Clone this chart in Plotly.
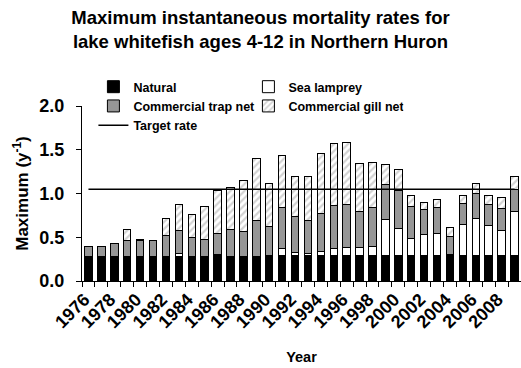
import plotly.graph_objects as go

years = list(range(1976, 2010))

natural = [0.28, 0.28, 0.28, 0.28, 0.28, 0.28, 0.28, 0.28, 0.28, 0.28,
           0.30, 0.28, 0.28, 0.28, 0.29, 0.29, 0.29, 0.29, 0.29, 0.29,
           0.29, 0.29, 0.29, 0.29, 0.29, 0.29, 0.29, 0.29, 0.30, 0.29,
           0.29, 0.29, 0.29, 0.29]
sea_lamprey = [0.0, 0.0, 0.0, 0.0, 0.0, 0.0, 0.0, 0.03, 0.0, 0.0,
               0.0, 0.0, 0.0, 0.0, 0.0, 0.08, 0.04, 0.03, 0.045, 0.08,
               0.09, 0.09, 0.10, 0.41, 0.31, 0.20, 0.24, 0.255, 0.0, 0.36,
               0.43, 0.34, 0.29, 0.51]
trap_net = [0.12, 0.11, 0.15, 0.185, 0.18, 0.185, 0.24, 0.27, 0.22, 0.20,
            0.24, 0.31, 0.29, 0.41, 0.33, 0.47, 0.41, 0.37, 0.435, 0.49,
            0.49, 0.41, 0.45, 0.40, 0.43, 0.36, 0.29, 0.295, 0.21, 0.24,
            0.28, 0.24, 0.25, 0.25]
gill_net = [0.0, 0.0, 0.0, 0.125, 0.02, 0.0, 0.20, 0.30, 0.26, 0.37,
            0.50, 0.48, 0.58, 0.71, 0.50, 0.59, 0.46, 0.51, 0.69, 0.71,
            0.71, 0.55, 0.51, 0.23, 0.24, 0.13, 0.08, 0.09, 0.10, 0.09,
            0.12, 0.11, 0.13, 0.14]
target_rate = 1.05

label_years = [y for y in years if y % 2 == 0]

FONT = "Liberation Sans, Arial, sans-serif"
outline = dict(color="black", width=1)

fig = go.Figure()
fig.add_trace(go.Bar(x=years, y=natural, name="Natural",
                     marker=dict(color="black", line=outline)))
fig.add_trace(go.Bar(x=years, y=sea_lamprey, name="Sea lamprey",
                     marker=dict(color="white", line=outline)))
fig.add_trace(go.Bar(x=years, y=trap_net, name="Commercial trap net",
                     marker=dict(color="#969696", line=outline)))
fig.add_trace(go.Bar(x=years, y=gill_net, name="Commercial gill net",
                     marker=dict(color="white", line=outline,
                                 pattern=dict(shape="/", fgcolor="#a8a8a8",
                                              bgcolor="white", size=5,
                                              solidity=0.45))))
fig.add_trace(go.Scatter(x=years, y=[target_rate] * len(years), mode="lines",
                         name="Target rate", line=dict(color="black", width=1.5)))

fig.update_layout(
    width=521, height=368,
    margin=dict(l=82, r=0, t=106, b=87),
    paper_bgcolor="white", plot_bgcolor="white",
    barmode="stack", bargap=0.42,
    font=dict(family=FONT, color="black", weight="bold"),
    title=dict(text="Maximum instantaneous mortality rates for<br>lake whitefish ages 4-12 in Northern Huron",
               x=0.5, xref="container", xanchor="center", y=0.935, yanchor="top",
               font=dict(size=18.5, family=FONT, weight="bold")),
    legend=dict(orientation="h", x=0.026, xanchor="left", y=1.194, yanchor="top",
                entrywidth=110, font=dict(size=12.5, family=FONT, weight="bold"),
                bgcolor="rgba(0,0,0,0)", traceorder="normal"),
    xaxis=dict(range=[1975.5, 2009.5], tickmode="array", tickvals=label_years,
               tickangle=-45, ticks="", showline=True, linecolor="black", linewidth=1,
               showgrid=False, zeroline=False, ticklabelshift=-4,
               minor=dict(tick0=1975.5, dtick=1, ticks="outside", ticklen=5,
                          tickcolor="black", showgrid=False),
               tickfont=dict(size=18, family=FONT, weight="bold"),
               title=dict(text="Year", font=dict(size=14.5, family=FONT, weight="bold"), standoff=20)),
    yaxis=dict(range=[0, 2], tickvals=[0, 0.5, 1.0, 1.5, 2.0], tickformat=".1f",
               ticks="outside", ticklen=5, tickcolor="black", showline=True,
               linecolor="black", linewidth=1, showgrid=False, zeroline=False,
               ticklabelstandoff=8,
               tickfont=dict(size=18, family=FONT, weight="bold"),
               title=dict(text="Maximum (y<sup>-1</sup>)", font=dict(size=17, family=FONT, weight="bold"),
                          standoff=6)),
)

fig.write_html("out.html")
